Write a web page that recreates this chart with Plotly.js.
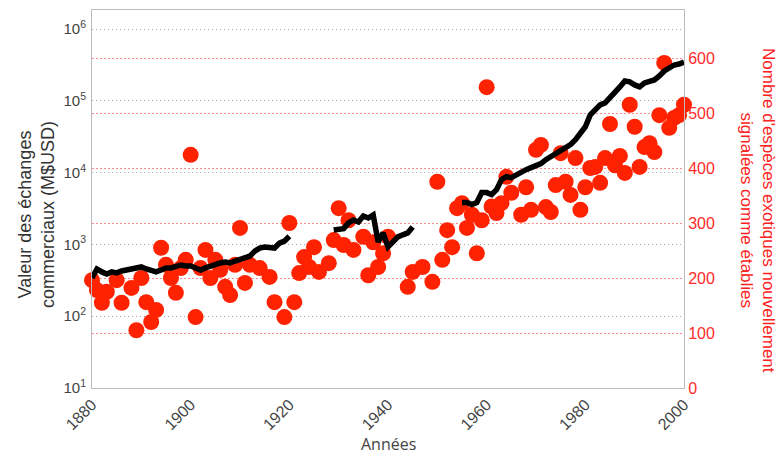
<!DOCTYPE html>
<html>
<head>
<meta charset="utf-8">
<script src="https://cdn.plot.ly/plotly-3.0.1.min.js"></script>
<style>html,body{margin:0;padding:0;background:#fff;}#chart{width:777px;height:457px;}</style>
</head>
<body>
<div id="chart"></div>
<script>
// Trade value (M$USD), log scale, three segments
const tradeYears1 = [1880,1881,1882,1883,1884,1885,1886,1887,1888,1889,1890,1891,1892,1893,1894,1895,1896,1897,1898,1899,1900,1901,1902,1903,1904,1905,1906,1907,1908,1909,1910,1911,1912,1913,1914,1915,1916,1917,1918,1919,1920];
const tradeValues1 = [342,455,414,388,414,401,427,441,441,455,485,455,427,414,441,470,470,485,517,500,500,470,441,470,500,534,551,569,551,587,625,667,688,807,890,917,917,890,1042,1110,1300];

const tradeYears2 = [1929,1930,1931,1932,1933,1934,1935,1936,1937,1938,1939,1940,1941,1942,1943,1944,1945];
const tradeValues2 = [1590,1590,1660,1990,2190,2050,2490,2330,2570,1080,1445,922,1080,1272,1360,1445,1750];

const tradeYears3 = [1955,1956,1957,1958,1959,1960,1961,1962,1963,1964,1965,1966,1967,1968,1969,1970,1971,1972,1973,1974,1975,1976,1977,1978,1979,1980,1981,1982,1983,1984,1985,1986,1987,1988,1989,1990,1991,1992,1993,1994,1995,1996,1997,1998,1999,2000];
const tradeValues3 = [3830,3830,3590,3830,5270,5270,4940,5790,7990,8790,8510,9380,9990,11000,11730,12490,13330,15140,16670,17770,20200,22230,24480,28730,34800,43500,63800,74800,87900,93600,113600,129100,156200,189200,183400,166600,156400,177600,183400,195400,222300,260600,286700,315500,325600,347000];

// Newly established alien species per year
const speciesYears = [1880,1881,1882,1883,1885,1886,1888,1889,1890,1891,1892,1893,1894,1895,1896,1897,1898,1899,1900,1901,1902,1903,1904,1905,1906,1907,1908,1909,1910,1911,1912,1914,1916,1917,1919,1920,1921,1922,1923,1924,1925,1926,1928,1929,1930,1931,1932,1933,1935,1936,1937,1938,1939,1940,1944,1945,1947,1949,1950,1951,1952,1953,1954,1955,1956,1957,1958,1959,1960,1961,1962,1963,1964,1965,1967,1968,1969,1970,1971,1972,1973,1974,1975,1976,1977,1978,1979,1980,1981,1982,1983,1984,1985,1986,1987,1988,1989,1990,1991,1992,1993,1994,1995,1996,1997,1998,1999,2000];
const speciesCounts = [196,178,155,175,196,155,182,105,200,156,120,142,255,224,200,173,218,233,424,129,218,251,200,233,215,184,169,224,291,191,224,218,202,156,129,300,156,209,238,220,256,211,227,269,327,260,305,251,275,205,265,220,245,275,184,211,220,193,375,233,287,256,327,336,291,315,245,305,547,330,318,336,384,355,315,365,324,433,442,329,320,369,427,375,351,418,324,365,400,402,373,418,480,405,422,391,515,475,402,438,445,429,496,591,473,491,496,515];

const xTicks = [1880,1900,1920,1940,1960,1980,2000];
const rightTicks = [0,100,200,300,400,500,600];
const leftTicks = [10,100,1000,10000,100000,1000000];
const leftTickText = ['10<sup>1</sup>','10<sup>2</sup>','10<sup>3</sup>','10<sup>4</sup>','10<sup>5</sup>','10<sup>6</sup>'];

const lineStyle = {color:'#000000', width:5.5};
const traces = [
  {x: speciesYears, y: speciesCounts, type:'scatter', mode:'markers', yaxis:'y',
   marker:{color:'#ff2200', size:16, line:{width:0}}, cliponaxis:false},
  {x: tradeYears1, y: tradeValues1, type:'scatter', mode:'lines', yaxis:'y2', line:lineStyle},
  {x: tradeYears2, y: tradeValues2, type:'scatter', mode:'lines', yaxis:'y2', line:lineStyle},
  {x: tradeYears3, y: tradeValues3, type:'scatter', mode:'lines', yaxis:'y2', line:lineStyle}
];

const tickFont = {family:'Liberation Sans, Arial, sans-serif', size:16, color:'#444'};
const layout = {
  width:777, height:457,
  margin:{l:92, r:93, t:10, b:69},
  paper_bgcolor:'#ffffff', plot_bgcolor:'#ffffff',
  showlegend:false,
  xaxis:{range:[1880,2000], tickvals:xTicks, tickangle:-45, tickfont:tickFont,
         showgrid:false, zeroline:false, showline:true, linecolor:'#bbbbbb', linewidth:1, mirror:true, ticks:''},
  yaxis:{side:'right', range:[0,687.3], tickvals:rightTicks,
         tickfont:{family:'Liberation Sans, Arial, sans-serif', size:16, color:'#ff2a2a'},
         showgrid:true, gridcolor:'#ff8a8a', griddash:'2px,2px', gridwidth:1,
         zeroline:false, showline:true, linecolor:'#bbbbbb', linewidth:1, ticks:''},
  yaxis2:{overlaying:'y', side:'left', type:'log', range:[1,6.265], tickmode:'array',
          tickvals:leftTicks, ticktext:leftTickText,
          tickfont:{family:'Liberation Sans, Arial, sans-serif', size:15, color:'#444'},
          showgrid:true, gridcolor:'#a8a8a8', griddash:'1px,3px', gridwidth:1,
          zeroline:false, showline:true, linecolor:'#bbbbbb', linewidth:1, ticks:'', ticklabelstandoff:2},
  annotations:[
    {text:'Valeur des échanges<br>commerciaux (M$USD)', xref:'paper', yref:'paper',
     x:(36-92)/592, y:(388-215)/378, xanchor:'center', yanchor:'middle', textangle:-90, showarrow:false,
     font:{family:'Liberation Sans, Arial, sans-serif', size:18, color:'#333'}},
    {text:"Nombre d'espèces exotiques nouvellement<br>signalées comme établies", xref:'paper', yref:'paper',
     x:(758-92)/592, y:(388-210)/378, xanchor:'center', yanchor:'middle', textangle:90, showarrow:false,
     font:{family:'Liberation Sans, Arial, sans-serif', size:17, color:'#ff2020'}},
    {text:'Années', xref:'paper', yref:'paper', x:0.5, y:(388-444)/378, xanchor:'center', yanchor:'middle',
     showarrow:false, font:{family:'Open Sans, sans-serif', size:16, color:'#444'}}
  ]
};
Plotly.newPlot('chart', traces, layout, {staticPlot:true, displayModeBar:false});
</script>
</body>
</html>
